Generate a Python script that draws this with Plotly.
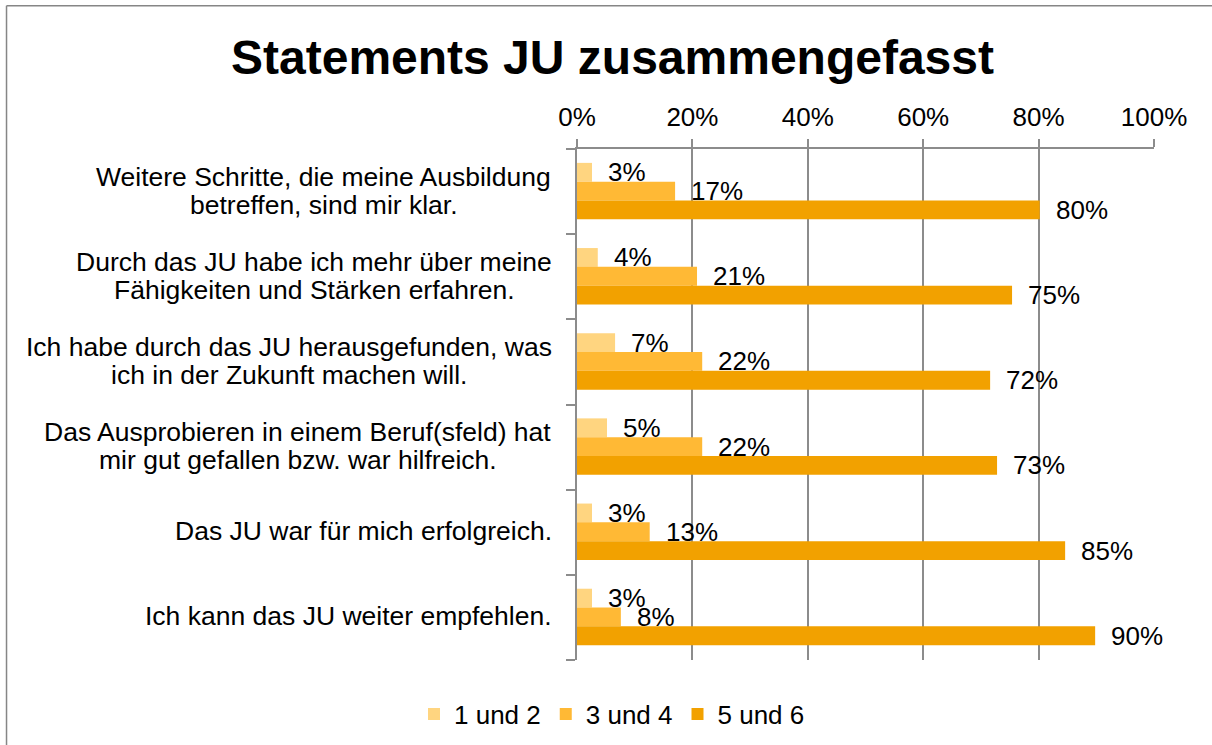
import plotly.graph_objects as go

categories = [
    ["Weitere Schritte, die meine Ausbildung", "betreffen, sind mir klar."],
    ["Durch das JU habe ich mehr über meine", "Fähigkeiten und Stärken erfahren."],
    ["Ich habe durch das JU herausgefunden, was", "ich in der Zukunft machen will."],
    ["Das Ausprobieren in einem Beruf(sfeld) hat", "mir gut gefallen bzw. war hilfreich."],
    ["Das JU war für mich erfolgreich."],
    ["Ich kann das JU weiter empfehlen."],
]
series_names = ["1 und 2", "3 und 4", "5 und 6"]
vals_1_2 = [2.6, 3.6, 6.6, 5.2, 2.6, 2.6]
vals_3_4 = [17.0, 20.8, 21.7, 21.7, 12.6, 7.6]
vals_5_6 = [80.2, 75.4, 71.6, 72.8, 84.6, 89.8]
x_ticks = [0, 20, 40, 60, 80, 100]
title_text = "Statements JU zusammengefasst"

colors = ["#FFD580", "#FFB935", "#F2A100"]
offsets = [-0.337, -0.116, 0.105]
bar_w = 0.221
FONT = "Arial, 'Liberation Sans', sans-serif"
GRID = "#8C8C8C"
LABEL_SIZE = 26.5

# Arial / Liberation Sans advance widths (1/1000 em) used to centre wrapped label lines
_W = {" ": 278, ",": 278, ".": 278, "(": 333, ")": 333,
      "A": 667, "B": 667, "D": 722, "F": 611, "I": 278, "J": 500, "S": 667, "U": 722, "W": 944,
      "a": 556, "b": 556, "c": 500, "d": 556, "e": 556, "f": 278, "g": 556, "h": 556, "i": 222,
      "k": 500, "l": 222, "m": 833, "n": 556, "o": 556, "p": 556, "r": 333, "s": 500, "t": 278,
      "u": 556, "v": 500, "w": 722, "z": 500, "ä": 556, "ü": 556, "ö": 556}


def text_width(s, size):
    return sum(_W.get(ch, 556) for ch in s) * size / 1000.0


fig = go.Figure()
ypos = list(range(len(categories)))
annotations = []
for name, vals, col, off in zip(series_names, [vals_1_2, vals_3_4, vals_5_6], colors, offsets):
    fig.add_trace(go.Bar(
        x=[v / 100 for v in vals], y=ypos, orientation="h", name=name,
        marker=dict(color=col, line=dict(width=0)),
        width=bar_w, offset=off, hoverinfo="skip",
    ))
    for i, v in enumerate(vals):
        annotations.append(dict(
            x=v / 100, y=i + off + bar_w / 2, xref="x", yref="y",
            text=f"{round(v)}%", showarrow=False, xanchor="left", yanchor="middle",
            xshift=14, font=dict(family=FONT, size=26, color="#000000"),
        ))

RIGHT_SHIFT = -25
LINE_GAP = 28
for i, lines in enumerate(categories):
    widest = max(text_width(s, LABEL_SIZE) for s in lines)
    n = len(lines)
    for k, s in enumerate(lines):
        annotations.append(dict(
            x=0, y=i, xref="x", yref="y", text=s, showarrow=False,
            xanchor="center", yanchor="middle", borderpad=0,
            xshift=RIGHT_SHIFT - widest / 2,
            yshift=-(k - (n - 1) / 2) * LINE_GAP + 1,
            font=dict(family=FONT, size=LABEL_SIZE, color="#000000"),
        ))

shapes = [
    dict(type="line", xref="paper", yref="paper", x0=-0.9887, x1=-0.9887, y0=-0.3, y1=1.2804,
         line=dict(color="#868686", width=1.5)),
    dict(type="line", xref="paper", yref="paper", x0=-0.9887, x1=1.2, y0=1.2804, y1=1.2804,
         line=dict(color="#868686", width=1.5)),
]

fig.update_layout(
    width=1212, height=745,
    margin=dict(l=577, r=58, t=149, b=85),
    paper_bgcolor="white", plot_bgcolor="white",
    barmode="overlay",
    title=dict(text=f"<b>{title_text}</b>", x=612.5 / 1212, xref="container", xanchor="center",
               y=1 - 57 / 745, yref="container", yanchor="middle",
               font=dict(family=FONT, size=48, color="#000000")),
    xaxis=dict(
        side="top", range=[0, 1], tickvals=[t / 100 for t in x_ticks],
        ticktext=[f"{t}%" for t in x_ticks],
        showgrid=True, gridcolor=GRID, gridwidth=1.8,
        showline=True, linecolor=GRID, linewidth=1.8,
        ticks="outside", ticklen=8, tickcolor=GRID, tickwidth=1.8,
        ticklabelstandoff=3,
        tickfont=dict(family=FONT, size=26, color="#000000"),
        zeroline=False, fixedrange=True,
    ),
    yaxis=dict(
        range=[5.5, -0.5], tickvals=[k - 0.5 for k in range(len(categories) + 1)],
        showticklabels=False, showgrid=False, zeroline=False,
        showline=True, linecolor=GRID, linewidth=1.8,
        ticks="outside", ticklen=9, tickcolor=GRID, tickwidth=1.8,
        fixedrange=True,
    ),
    legend=dict(
        orientation="h", xref="container", yref="container",
        x=612 / 1212, xanchor="center", y=1 - 714 / 745, yanchor="middle",
        font=dict(family=FONT, size=26, color="#000000"),
        itemclick=False, itemdoubleclick=False,
    ),
    annotations=annotations,
    shapes=shapes,
    showlegend=True,
)

fig.write_html("out.html", config={"displayModeBar": False},
               post_script="document.body.style.margin='0';")
